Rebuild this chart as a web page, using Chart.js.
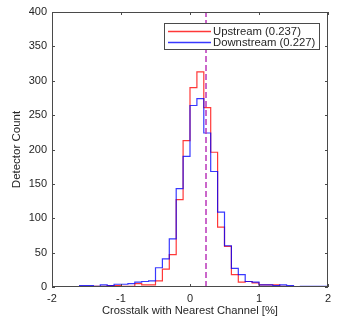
<!DOCTYPE html>
<html>
<head>
<meta charset="utf-8">
<script src="https://cdn.jsdelivr.net/npm/chart.js@4.4.1/dist/chart.umd.min.js"></script>
<style>
  html, body { margin: 0; padding: 0; background: #fff; }
  #wrap { width: 341px; height: 328px; }
</style>
</head>
<body>
<div id="wrap"><canvas id="hist" width="341" height="328"></canvas></div>
<script>
// bins of 0.1 % from -2 to 2
const binEdges = Array.from({ length: 41 }, (_, i) => +(-2 + i * 0.1).toFixed(1))
const upstreamCounts = [
  0, 0, 0, 0, 0, 1, 1, 1, 1, 2,
  2, 1, 1, 5, 3, 3, 9, 26, 47, 127,
  213, 290, 313, 261, 196, 87, 59, 18, 7, 8,
  6, 3, 3, 3, 1, 1, 0, 0, 0, 0
]
const downstreamCounts = [
  1, 0, 0, 0, 0, 2, 2, 1, 3, 2,
  4, 4, 5, 7, 8, 9, 28, 41, 70, 143,
  190, 264, 274, 224, 168, 109, 60, 27, 18, 8,
  7, 3, 3, 2, 3, 2, 0, 1, 1, 1
]
const seriesLabels = ["Upstream (0.237)", "Downstream (0.227)"]
const meanCrosstalk = 0.232
const xTicks = [-2, -1, 0, 1, 2]
const yTicks = [0, 50, 100, 150, 200, 250, 300, 350, 400]

function stairs(counts) {
  const pts = [{ x: binEdges[0], y: 0 }]
  counts.forEach((c, i) => pts.push({ x: binEdges[i], y: c }))
  pts.push({ x: binEdges[binEdges.length - 1], y: counts[counts.length - 1] })
  pts.push({ x: binEdges[binEdges.length - 1], y: 0 })
  return pts
}

const textColor = "#262626"
const axisColor = "#4a4a4a"
const upColor = "rgba(255, 0, 0, 0.78)"
const downColor = "rgba(0, 0, 255, 0.78)"

// box around the axes with inward ticks (matlab style)
const boxPlugin = {
  id: "box",
  afterDatasetsDraw(chart) {
    const { ctx, chartArea: a, scales } = chart
    ctx.save()
    ctx.strokeStyle = axisColor
    ctx.lineWidth = 1
    ctx.strokeRect(Math.round(a.left) + 0.5, Math.round(a.top) + 0.5,
      Math.round(a.right - a.left) - 1, Math.round(a.bottom - a.top) - 1)
    const len = 3
    ctx.beginPath()
    xTicks.forEach((v) => {
      const px = Math.round(scales.x.getPixelForValue(v)) + 0.5
      ctx.moveTo(px, a.bottom); ctx.lineTo(px, a.bottom - len)
      ctx.moveTo(px, a.top); ctx.lineTo(px, a.top + len)
    })
    yTicks.forEach((v) => {
      const py = Math.round(scales.y.getPixelForValue(v)) + 0.5
      ctx.moveTo(a.left, py); ctx.lineTo(a.left + len, py)
      ctx.moveTo(a.right, py); ctx.lineTo(a.right - len, py)
    })
    ctx.stroke()
    ctx.restore()
  },
  afterDraw(chart) {
    // legend box, top right inside the axes
    const { ctx } = chart
    const x0 = 164, y0 = 23, w = 156, h = 27
    ctx.save()
    ctx.fillStyle = "#fff"
    ctx.fillRect(x0, y0, w, h)
    ctx.strokeStyle = axisColor
    ctx.lineWidth = 1
    ctx.strokeRect(x0 + 0.5, y0 + 0.5, w - 1, h - 1)
    ctx.font = "11.3px 'Liberation Sans', Helvetica, Arial, sans-serif"
    ctx.textBaseline = "middle"
    chart.data.datasets.slice(1, 3).forEach((ds, i) => {
      const cy = y0 + 8 + i * 11
      ctx.strokeStyle = ds.borderColor
      ctx.lineWidth = 1.3
      ctx.beginPath()
      ctx.moveTo(x0 + 4, cy + 0.5)
      ctx.lineTo(x0 + 47, cy + 0.5)
      ctx.stroke()
      ctx.fillStyle = textColor
      ctx.fillText(ds.label, x0 + 49, cy + 1)
    })
    ctx.restore()
  }
}

Chart.defaults.font.family = "'Liberation Sans', Helvetica, Arial, sans-serif"
Chart.defaults.color = textColor

new Chart(document.getElementById("hist"), {
  type: "line",
  data: {
    datasets: [
      {
        label: "mean",
        data: [{ x: meanCrosstalk, y: 0 }, { x: meanCrosstalk, y: 400 }],
        borderColor: "rgba(185, 55, 185, 0.95)",
        borderWidth: 1.6,
        borderDash: [6, 3],
        pointRadius: 0,
        order: 0,
      },
      {
        label: seriesLabels[0],
        data: stairs(upstreamCounts),
        borderColor: upColor,
        borderWidth: 1.2,
        stepped: "after",
        pointRadius: 0,
        fill: false,
        order: 2,
      },
      {
        label: seriesLabels[1],
        data: stairs(downstreamCounts),
        borderColor: downColor,
        borderWidth: 1.2,
        stepped: "after",
        pointRadius: 0,
        fill: false,
        order: 1,
      },
    ],
  },
  options: {
    responsive: false,
    animation: false,
    devicePixelRatio: 1,
    layout: { padding: { left: 0, right: 13, top: 12, bottom: 0 } },
    plugins: {
      legend: { display: false },
      tooltip: { enabled: false },
    },
    scales: {
      x: {
        type: "linear",
        min: -2,
        max: 2,
        afterBuildTicks: (s) => { s.ticks = xTicks.map((v) => ({ value: v })) },
        afterFit: (s) => { s.height = 41 },
        grid: { display: false, drawTicks: false },
        border: { display: false },
        ticks: { padding: 5, font: { size: 11 }, color: textColor, maxRotation: 0 },
        title: {
          display: true,
          text: "Crosstalk with Nearest Channel [%]",
          font: { size: 11.2, lineHeight: 1.2 },
          color: textColor,
          padding: { top: 0, bottom: 10 },
        },
      },
      y: {
        type: "linear",
        min: 0,
        max: 400,
        afterBuildTicks: (s) => { s.ticks = yTicks.map((v) => ({ value: v })) },
        afterFit: (s) => { s.width = 52 },
        grid: { display: false, drawTicks: false },
        border: { display: false },
        ticks: { padding: 5, font: { size: 11 }, color: textColor },
        title: {
          display: true,
          text: "Detector Count",
          font: { size: 11.5, lineHeight: 1.2 },
          color: textColor,
          padding: { top: 10, bottom: 0 },
        },
      },
    },
  },
  plugins: [boxPlugin],
})
</script>
</body>
</html>
